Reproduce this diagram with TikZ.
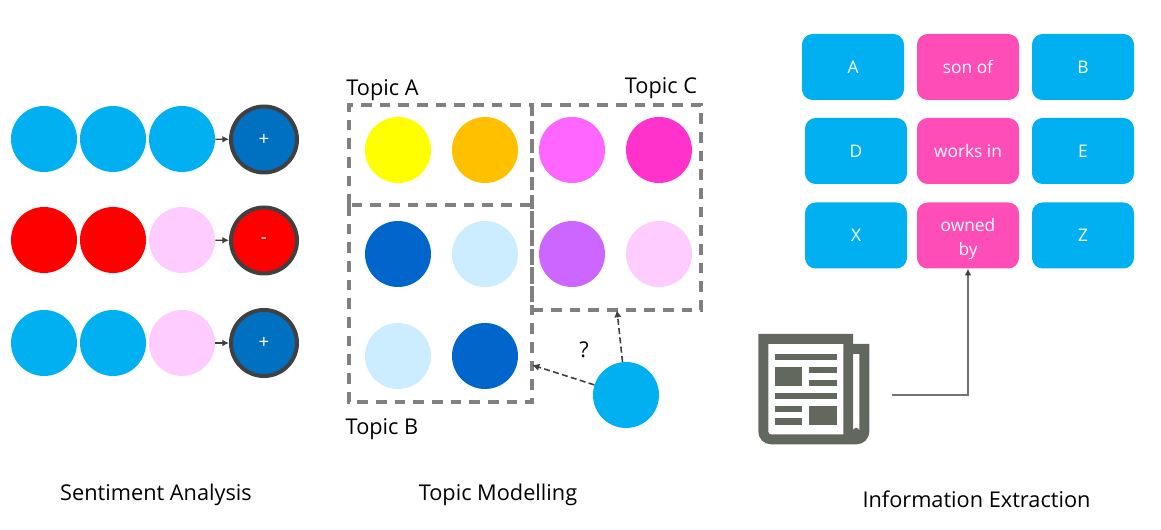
\documentclass[tikz,border=0pt]{standalone}
\usepackage{fontspec}
\usetikzlibrary{arrows.meta}
\setmainfont{Open Sans}
\definecolor{skyc}{HTML}{00B0F0}
\definecolor{bluec}{HTML}{0070C0}
\definecolor{navyc}{HTML}{0066CC}
\definecolor{paleb}{HTML}{CCECFF}
\definecolor{palep}{HTML}{FFCCFF}
\definecolor{boxp}{HTML}{FF4DB8}
\definecolor{ringc}{HTML}{404040}
\definecolor{paperc}{HTML}{63685E}
\definecolor{yellowc}{HTML}{FFFF00}
\definecolor{orangec}{HTML}{FFC000}
\definecolor{pinkc}{HTML}{FF66FF}
\definecolor{magentac}{HTML}{FF33CC}
\definecolor{purplec}{HTML}{CC66FF}
\begin{document}
\begin{tikzpicture}[x=0.75pt,y=-0.75pt,font=\fontsize{16.3}{19}\selectfont]
        \tikzstyle{dot}=[circle,inner sep=0pt,minimum size=49.5pt]
        \tikzstyle{result}=[circle,draw=ringc,line width=3pt,inner sep=0pt,minimum size=49.5pt,text=white,font=\fontsize{14}{16}\selectfont]
        \tikzstyle{tag}=[rounded corners=8pt,inner sep=0pt,minimum width=76.5pt,minimum height=49.5pt,text=white,align=center,font=\fontsize{13}{18}\selectfont]
        \tikzstyle{topicbox}=[draw=gray,line width=2.3pt,dash pattern=on 8pt off 6pt,inner sep=0pt]
        \tikzstyle{arr}=[draw=ringc,line width=0.9pt,-{Latex[length=5pt,width=5pt]}]
        \tikzstyle{dasharr}=[draw=ringc,line width=1.2pt,dash pattern=on 4.5pt off 2.5pt,-{Latex[length=5.5pt,width=5.5pt]}]
        \useasboundingbox (0,0) rectangle (1161,530);

        \node[dot,fill=skyc] (s11) at (44,139) {};
        \node[dot,fill=skyc] (s12) at (113,139) {};
        \node[dot,fill=skyc] (s13) at (182,139) {};
        \node[result,fill=bluec] (r1) at (264,139.5) {+};
        \node[dot,fill=red] (s21) at (44,240) {};
        \node[dot,fill=red] (s22) at (113,240) {};
        \node[dot,fill=palep] (s23) at (182,240) {};
        \node[result,fill=red] (r2) at (264,240.5) {-};
        \node[dot,fill=skyc] (s31) at (44,343) {};
        \node[dot,fill=skyc] (s32) at (113,343) {};
        \node[dot,fill=palep] (s33) at (182,343) {};
        \node[result,fill=bluec] (r3) at (264,343) {+};
        \draw[arr] (s13) -- (r1);
        \draw[arr] (s23) -- (r2);
        \draw[arr] (s33) -- (r3);

        \node[dot,fill=yellowc] (a1) at (398,150) {};
        \node[dot,fill=orangec] (a2) at (485,150) {};
        \node[dot,fill=pinkc] (c1) at (572,150) {};
        \node[dot,fill=magentac] (c2) at (659,150) {};
        \node[dot,fill=navyc] (b1) at (398,254) {};
        \node[dot,fill=paleb] (b2) at (485,254) {};
        \node[dot,fill=purplec] (c3) at (572,254) {};
        \node[dot,fill=palep] (c4) at (659,254) {};
        \node[dot,fill=paleb] (b3) at (398,356) {};
        \node[dot,fill=navyc] (b4) at (485,356) {};
        \node[dot,fill=skyc] (doc) at (626,395) {};
        \draw[topicbox] (349,205) -- (349,105) -- (532,105) -- (532,205);
        \draw[topicbox] (349,205) rectangle (532,402);
        \draw[topicbox] (532,105) rectangle (701,310);
        \coordinate (endb) at (532,365);
        \coordinate (endc) at (617,310);
        \draw[dasharr] (doc) -- (endb);
        \draw[dasharr] (doc) -- (endc);
        \node (qm) at (584,350) {?};
        \node (ta) at (382.5,90) {Topic A};
        \node (tb) at (382,429.5) {Topic B};
        \node (tc) at (661,88.5) {Topic C};

        \node[tag,fill=skyc] (A) at (853,67) {A};
        \node[tag,fill=boxp] (sonof) at (968,67) {son of};
        \node[tag,fill=skyc] (B) at (1083,67) {B};
        \node[tag,fill=skyc] (D) at (856,151) {D};
        \node[tag,fill=boxp] (worksin) at (968,151) {works in};
        \node[tag,fill=skyc] (E) at (1083,151) {E};
        \node[tag,fill=skyc] (X) at (856,235.5) {X};
        \node[tag,fill=boxp] (ownedby) at (968,235.5) {\rule{0pt}{15pt}owned\\by};
        \node[tag,fill=skyc] (Z) at (1083,235.5) {Z};

        \begin{scope}[shift={(740,260)},x=0.25pt,y=-0.25pt]
            \fill[paperc,even odd rule] (55,222) -- (339,222) -- (339,252) -- (388,252) -- (388,515) arc[start angle=0,end angle=90,radius=38] -- (93,553) arc[start angle=90,end angle=180,radius=38] -- cycle
                (85,252) -- (310,252) -- (310,523) -- (93,523) arc[start angle=90,end angle=180,radius=8] -- cycle
                (339,282) -- (358,282) -- (358,513) arc[start angle=0,end angle=-180,radius=9.5] -- cycle;
            \fill[paperc] (105,282) rectangle (290,301);
            \fill[paperc] (105,320) rectangle (187,378);
            \fill[paperc] (207,320) rectangle (290,340);
            \fill[paperc] (207,359) rectangle (290,378);
            \fill[paperc] (105,398) rectangle (290,417);
            \fill[paperc] (105,437) rectangle (187,456);
            \fill[paperc] (105,475) rectangle (187,495);
            \fill[paperc] (207,437) rectangle (290,495);
        \end{scope}
        \coordinate (paper) at (892,395);
        \draw[draw=gray!90!black,line width=0.9pt,-{Latex[ringc,length=5pt,width=5pt]}] (paper) -| (ownedby);

        \node (sa) at (156,495) {Sentiment Analysis};
        \node (tm) at (498,495) {Topic Modelling};
        \node (ie) at (976.5,499) {Information Extraction};
\end{tikzpicture}
\end{document}
